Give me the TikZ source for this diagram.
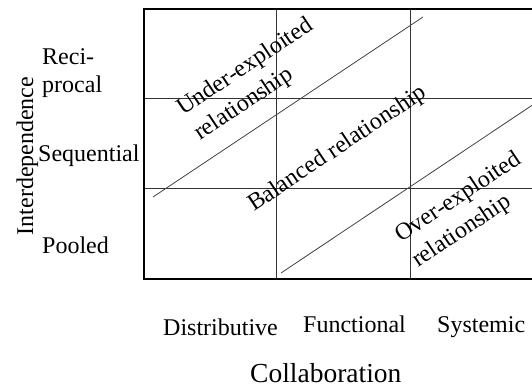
\documentclass[tikz,border=0pt]{standalone}
\usepackage{fontspec}
\setmainfont{Liberation Serif}
\usetikzlibrary{positioning}

\begin{document}
\begin{tikzpicture}[x=1pt,y=-1pt,
    lab/.style={font=\fontsize{24}{28}\selectfont, inner sep=0pt, anchor=base west},
    rel/.style={lab, rotate=33.7, align=left, font=\fontsize{24}{30}\selectfont},
    cell/.style={draw=black!80, line width=1pt},
    frame/.style={draw=black, line width=2.5pt},
    diag/.style={draw=black!75, line width=0.8pt}]
  \clip (0,0) rectangle (532,387);
  % cells of the matrix
  \draw[cell] (144,99) -- (540,99) (144,189) -- (540,189)
              (276,9) -- (276,279) (410,9) -- (410,279);
  \draw[frame] (540,9) -- (144,9) -- (144,279) -- (540,279);
  % boundaries of the balanced band
  \coordinate (u0) at (153,197);
  \coordinate (u1) at (423,17);
  \coordinate (o0) at (281,273);
  \coordinate (o1) at (540,100);
  \draw[diag] (u0) -- (u1);
  \draw[diag] (o0) -- (o1);
  % regions (base west = last line)
  \path (200,141) node (under) [rel] {Under-exploited\\relationship}
        (254,212) node (bal) [rel] {Balanced relationship}
        (418,268) node (over) [rel] {Over-exploited\\relationship};
  % interdependence axis
  \path (42,93) node (recip) [lab, align=left] {Reci-\\procal}
        (38,162) node (seq) [lab] {Sequential}
        (42,253) node (pool) [lab] {Pooled}
        (33,156) node (inter) [lab, anchor=base, rotate=90] {Interdependence};
  % collaboration axis
  \path (163,335) node (distr) [lab] {Distributive}
        (303,332) node (funct) [lab] {Functional}
        (437,332) node (syst) [lab] {Systemic}
        (250,382) node (collab) [lab, font=\fontsize{27.5}{30}\selectfont] {Collaboration};
\end{tikzpicture}
\end{document}
